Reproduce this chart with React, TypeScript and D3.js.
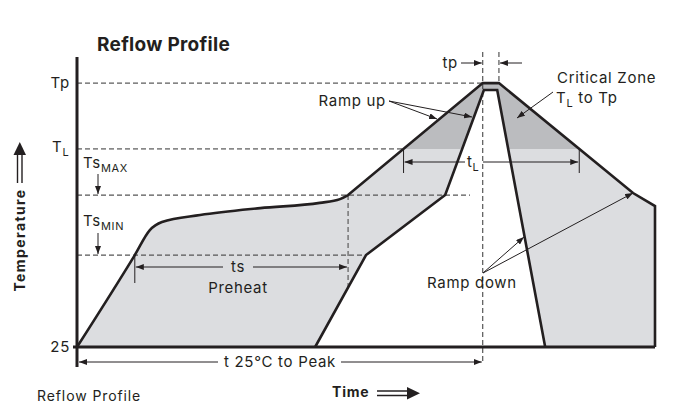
import { useEffect, useRef } from 'react'
import * as d3 from 'd3'

const WIDTH = 675
const HEIGHT = 405
const FONT = 'Inter, "Open Sans", sans-serif'
const INK = '#231f20'

// schematic temperature levels (0 = 25°C, 100 = top of axis)
const levelNames = ['Tp', 'TL', 'TsMax', 'TsMin', 'T25']
const levelValues = [91.0, 68.3, 52.4, 31.7, 0]
// where each dashed level line stops (time units)
const levelLineEnds = [70.2, 56.5, 68.0, 50.0]

// profile band, [time, temp] in schematic units
const preheatCurve: [number, number][] = [
  [0, 0], [10.0, 31.7], [12.6, 40.3], [14.7, 43.1], [21.3, 45.5],
  [31.7, 47.9], [42.0, 49.7], [45.5, 51.0], [46.9, 52.4],
]
const outerUpper: [number, number][] = [
  [46.9, 52.4], [70.2, 91.0], [73.0, 91.0], [96.2, 53.1], [100, 48.6], [100, 0],
]
const innerEdge: [number, number][] = [
  [41.2, 0], [50.0, 31.7], [63.7, 52.4], [70.4, 88.6], [72.7, 88.6], [81.0, 0],
]

// time markers
const tsStart = 10.0
const tsEnd = 46.9
const tpStart = 70.2
const tpEnd = 73.0

const level = (name: string) => levelValues[levelNames.indexOf(name)]

function crossings(pts: [number, number][], v: number) {
  const out: number[] = []
  for (let i = 0; i < pts.length - 1; i++) {
    const [x0, y0] = pts[i]
    const [x1, y1] = pts[i + 1]
    if ((y0 - v) * (y1 - v) < 0) out.push(x0 + ((v - y0) / (y1 - y0)) * (x1 - x0))
  }
  return out
}

export default function App() {
  const svgRef = useRef<SVGSVGElement>(null)

  useEffect(() => {
    if (!svgRef.current) return
    const svg = d3.select(svgRef.current)
    svg.selectAll('*').remove()

    const x = d3.scaleLinear().domain([0, 100]).range([77, 655])
    const y = d3.scaleLinear().domain([0, 100]).range([347, 57])

    const lineC = d3.line<[number, number]>().x(d => x(d[0])).y(d => y(d[1])).curve(d3.curveMonotoneX)
    const lineL = d3.line<[number, number]>().x(d => x(d[0])).y(d => y(d[1]))

    const outerD = (lineC(preheatCurve) as string) + (lineL(outerUpper.slice(1)) as string).replace(/^M/, 'L')
    const innerD = lineL(innerEdge) as string

    const defs = svg.append('defs')
    defs.append('marker')
      .attr('id', 'ah')
      .attr('viewBox', '0 0 8 6')
      .attr('refX', 8).attr('refY', 3)
      .attr('markerWidth', 8).attr('markerHeight', 6)
      .attr('markerUnits', 'userSpaceOnUse')
      .attr('orient', 'auto-start-reverse')
      .append('path').attr('d', 'M0,0 L8,3 L0,6 Z').attr('fill', INK)
    defs.append('clipPath').attr('id', 'crit')
      .append('rect').attr('x', 0).attr('y', 0).attr('width', WIDTH).attr('height', y(level('TL')))

    // band fills
    svg.append('path').attr('d', outerD + 'Z').attr('fill', '#dcdde0')
    svg.append('path').attr('d', outerD + 'Z').attr('fill', '#bbbcbf').attr('clip-path', 'url(#crit)')
    svg.append('path').attr('d', innerD + 'Z').attr('fill', '#fff')

    // dashed level lines
    levelNames.slice(0, 4).forEach((name, i) => {
      svg.append('line')
        .attr('x1', x(0)).attr('x2', x(levelLineEnds[i]))
        .attr('y1', y(level(name))).attr('y2', y(level(name)))
        .attr('stroke', i < 2 ? '#333' : '#555')
        .attr('stroke-width', i < 2 ? 1 : 1.3)
        .attr('stroke-dasharray', '5,3')
    })
    const vdash = (xv: number, y1: number, y2: number, color = '#333') =>
      svg.append('line').attr('x1', x(xv)).attr('x2', x(xv)).attr('y1', y1).attr('y2', y2)
        .attr('stroke', color).attr('stroke-width', 1).attr('stroke-dasharray', '5,3')
    vdash(tpStart, 52, 364)
    vdash(tpEnd, 52, y(level('Tp')))
    vdash(tsEnd, y(level('TsMax')), 290, '#666').attr('stroke-width', 1.3)

    // profile strokes
    svg.append('path').attr('d', outerD).attr('fill', 'none').attr('stroke', INK).attr('stroke-width', 2.6)
    svg.append('path').attr('d', innerD).attr('fill', 'none').attr('stroke', INK).attr('stroke-width', 2.6)

    // axes
    svg.append('line').attr('x1', x(0) - 4).attr('x2', x(100)).attr('y1', y(0)).attr('y2', y(0))
      .attr('stroke', INK).attr('stroke-width', 3)
    svg.append('line').attr('x1', x(0)).attr('x2', x(0)).attr('y1', y(100)).attr('y2', y(0) + 20)
      .attr('stroke', INK).attr('stroke-width', 3)

    const arrow = (x1: number, y1: number, x2: number, y2: number, both = false) =>
      svg.append('line').attr('x1', x1).attr('y1', y1).attr('x2', x2).attr('y2', y2)
        .attr('stroke', INK).attr('stroke-width', 1)
        .attr('marker-end', 'url(#ah)')
        .attr('marker-start', both ? 'url(#ah)' : null)
    const tick = (xp: number, y1: number, y2: number) =>
      svg.append('line').attr('x1', xp).attr('x2', xp).attr('y1', y1).attr('y2', y2)
        .attr('stroke', INK).attr('stroke-width', 1)

    const label = (tx: number, ty: number, text: string, anchor = 'start', size = 15, spacing = 0.7) =>
      svg.append('text').attr('x', tx).attr('y', ty).attr('text-anchor', anchor)
        .attr('font-family', FONT).attr('font-size', size).attr('letter-spacing', spacing)
        .attr('fill', INK).text(text)
    const subLabel = (tx: number, ty: number, main: string, sub: string, rest = '', anchor = 'start') => {
      const t = svg.append('text').attr('x', tx).attr('y', ty).attr('text-anchor', anchor)
        .attr('font-family', FONT).attr('font-size', 15).attr('letter-spacing', 0.7).attr('fill', INK)
      t.append('tspan').text(main)
      t.append('tspan').attr('dy', 4).attr('font-size', 11).text(sub)
      if (rest) t.append('tspan').attr('dy', -4).text(rest)
      return t
    }

    // left level labels
    label(70, y(level('Tp')) + 5, 'Tp', 'end')
    subLabel(52, y(level('TL')) + 3, 'T', 'L')
    label(70, y(0) + 5, '25', 'end')
    subLabel(83, 168, 'Ts', 'MAX')
    arrow(98, 174, 98, y(level('TsMax')) - 1)
    subLabel(83, 226, 'Ts', 'MIN')
    arrow(98, 233, 98, y(level('TsMin')) - 1)

    // tp
    label(458, 68, 'tp', 'end')
    arrow(461, 63, x(tpStart) - 1, 63)
    arrow(522, 63, x(tpEnd) + 1, 63)

    // tL
    const [tlA, tlB] = crossings(outerUpper, level('TL'))
    const tlY = 162
    tick(x(tlA), y(level('TL')) + 1, 173)
    tick(x(tlB), y(level('TL')) + 1, 173)
    arrow(465, tlY, x(tlA) + 1, tlY)
    arrow(483, tlY, x(tlB) - 1, tlY)
    subLabel(467, 167, 't', 'L')

    // ts preheat
    const tsY = 267
    tick(x(tsStart), y(level('TsMin')), 283)
    arrow(223, tsY, x(tsStart) + 1, tsY)
    arrow(253, tsY, x(tsEnd) - 1, tsY)
    label(238, 272, 'ts', 'middle')
    label(238, 293, 'Preheat', 'middle')

    // t 25°C to peak
    const pkY = 362
    arrow(218, pkY, x(0) + 2, pkY)
    arrow(341, pkY, x(tpStart) - 1, pkY)
    label(280, 367, 't 25°C to Peak', 'middle')

    // ramp up
    label(386, 106, 'Ramp up', 'end')
    arrow(389, 101, 437, 119)
    arrow(389, 101, 472, 117)

    // critical zone
    label(557, 83, 'Critical Zone')
    subLabel(556, 103, 'T', 'L', ' to Tp')
    arrow(553, 92, 517, 118)

    // ramp down
    label(427, 288, 'Ramp down')
    arrow(483, 273, 524, 237)
    arrow(483, 273, 633, 193)

    // titles
    svg.append('text').attr('x', 97).attr('y', 51)
      .attr('font-family', FONT).attr('font-size', 19).attr('font-weight', 700)
      .attr('letter-spacing', 0.3).attr('fill', INK)
      .text('Reflow Profile')
    label(37, 401, 'Reflow Profile', 'start', 14, 0.9)

    svg.append('text').attr('x', 332).attr('y', 397)
      .attr('font-family', FONT).attr('font-size', 14).attr('font-weight', 700)
      .attr('letter-spacing', 0.8).attr('fill', INK)
      .text('Time')
    // double-shaft arrows
    const dbl = svg.append('g').attr('fill', 'none').attr('stroke', INK).attr('stroke-width', 1.4)
    dbl.append('line').attr('x1', 377).attr('x2', 410).attr('y1', 391).attr('y2', 391)
    dbl.append('line').attr('x1', 377).attr('x2', 410).attr('y1', 395.5).attr('y2', 395.5)
    svg.append('path').attr('d', 'M407,387 L420,393.2 L407,399.5 Z').attr('fill', INK)

    svg.append('text').attr('transform', 'translate(24.5,240) rotate(-90)').attr('text-anchor', 'middle')
      .attr('font-family', FONT).attr('font-size', 14).attr('font-weight', 700)
      .attr('letter-spacing', 1.4).attr('fill', INK)
      .text('Temperature')
    dbl.append('line').attr('x1', 17.5).attr('x2', 17.5).attr('y1', 183).attr('y2', 152)
    dbl.append('line').attr('x1', 22).attr('x2', 22).attr('y1', 183).attr('y2', 152)
    svg.append('path').attr('d', 'M13.5,155 L19.8,142 L26,155 Z').attr('fill', INK)
  }, [])

  return (
    <svg
      ref={svgRef}
      width={WIDTH}
      height={HEIGHT}
      style={{ position: 'absolute', left: 0, top: 0, background: '#fff' }}
    />
  )
}
